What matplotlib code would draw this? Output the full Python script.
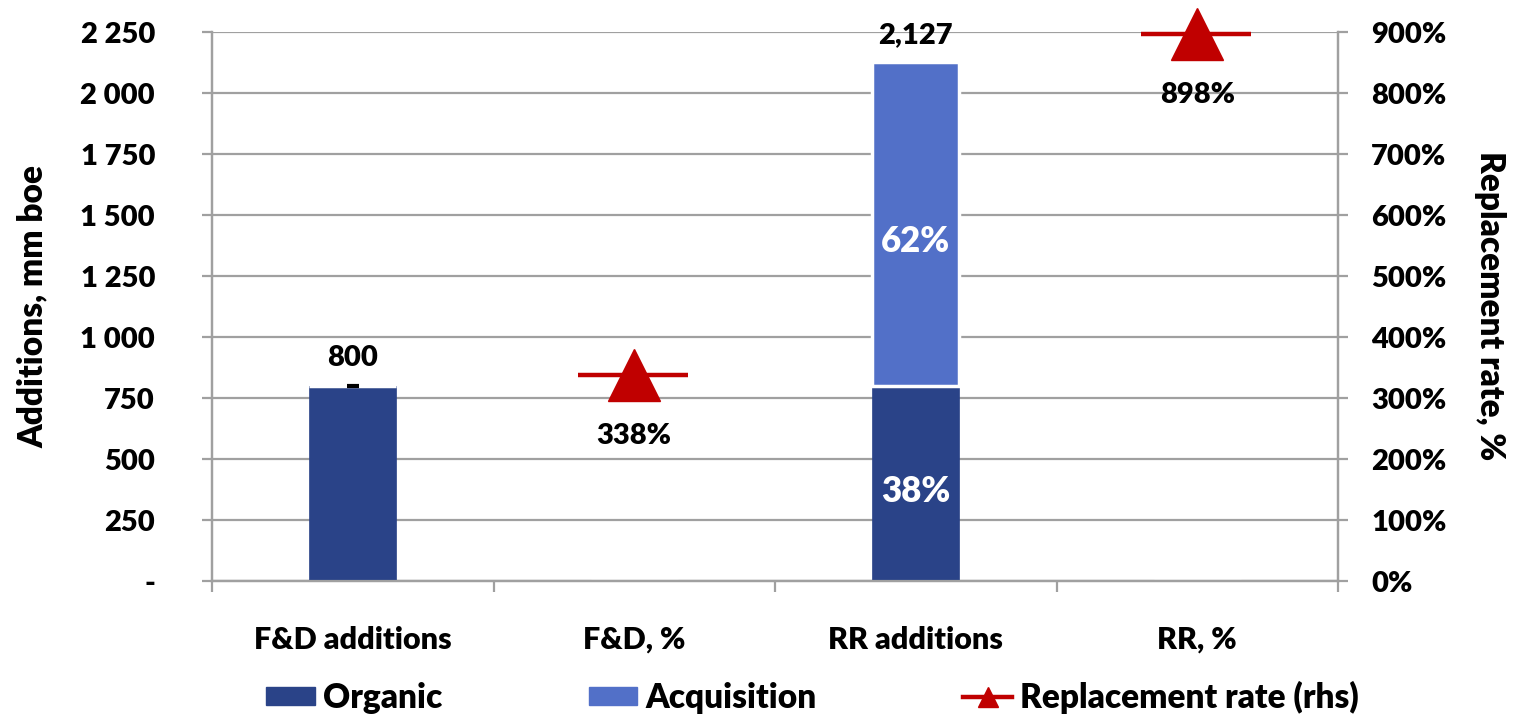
import numpy as np
import matplotlib
matplotlib.use("Agg")
import matplotlib.pyplot as plt
from matplotlib.ticker import FuncFormatter, FixedLocator
from matplotlib.patches import Patch
from matplotlib.lines import Line2D

plt.rcParams['font.family'] = ['Lato', 'DejaVu Sans']

# reserve additions, mm boe
categories = ['F&D additions', 'F&D, %', 'RR additions', 'RR, %']
organic = [800, 0, 800, 0]
acquisition = [0, 0, 1327, 0]
totals = [800, None, 2127, None]
share_labels = [None, None, ('38%', '62%'), None]

# replacement rate, %
rr_pos = [1, 3]
rr_values = [338, 898]

dark_blue = '#2a4388'
light_blue = '#5270c8'
red = '#c00000'
grid_c = '#a0a0a0'
fs = 21
fw = 'heavy'

fig = plt.figure(figsize=(15.13, 7.15), dpi=100)
ax = fig.add_axes([212 / 1513, 133.7 / 715, 1126 / 1513, 548.9 / 715])
ax2 = ax.twinx()

x = np.arange(len(categories))
bw = 0.31

ax.bar(x, organic, bw, color=dark_blue, edgecolor=dark_blue, linewidth=0.5, zorder=3)
ax.bar(x, acquisition, bw, bottom=organic, color=light_blue,
       edgecolor='white', linewidth=2.5, zorder=3)

# small black tick on top of the first bar
ax.plot([0], [organic[0]], marker='_', color='black', markersize=8, mew=3, zorder=4)

for i, t in enumerate(totals):
    if t is None:
        continue
    ax.annotate(f'{t:,}' if t >= 1000 else f'{t}', (x[i], t), xytext=(0, 20),
                textcoords='offset points', ha='center', va='center',
                fontsize=fs, fontweight=fw, color='black', zorder=5)

for i, s in enumerate(share_labels):
    if s is None:
        continue
    ax.text(x[i], organic[i] / 2 - 30, s[0], ha='center', va='center',
            fontsize=25, fontweight=fw, color='white', zorder=5)
    ax.text(x[i], organic[i] + acquisition[i] / 2 - 70, s[1], ha='center',
            va='center', fontsize=25, fontweight=fw, color='white', zorder=5)

ax.set_xlim(-0.5, 3.5)
ax.set_ylim(0, 2250)
ax.yaxis.set_major_locator(FixedLocator(np.arange(0, 2251, 250)))
ax.yaxis.set_major_formatter(FuncFormatter(
    lambda v, p: '-' if v == 0 else f'{int(v):,}'.replace(',', ' ')))
ax.grid(axis='y', color=grid_c, linewidth=1.6, zorder=0)
ax.set_axisbelow(True)

# category boundaries as major ticks, names on minor ticks
ax.xaxis.set_major_locator(FixedLocator([-0.5, 0.5, 1.5, 2.5, 3.5]))
ax.xaxis.set_major_formatter(FuncFormatter(lambda v, p: ''))
ax.xaxis.set_minor_locator(FixedLocator(x))
ax.set_xticklabels(categories, minor=True, fontweight=fw)
ax.tick_params(axis='x', which='major', length=8, width=1.6, color=grid_c, direction='out')
ax.tick_params(axis='x', which='minor', length=0, pad=32, labelsize=22)
ax.tick_params(axis='y', length=7, width=1.6, color=grid_c, pad=34, labelsize=fs)
for lab in ax.get_yticklabels():
    lab.set_fontweight(fw)

for side in ['top']:
    ax.spines[side].set_visible(False)
    ax2.spines[side].set_visible(False)
for side in ['left', 'bottom', 'right']:
    ax.spines[side].set_color(grid_c)
    ax.spines[side].set_linewidth(1.6)
    ax2.spines[side].set_color(grid_c)
    ax2.spines[side].set_linewidth(1.6)

# replacement rate on the right axis
ax2.set_ylim(0, 900)
ax2.yaxis.set_major_locator(FixedLocator(np.arange(0, 901, 100)))
ax2.yaxis.set_major_formatter(FuncFormatter(lambda v, p: f'{int(v)}%'))
ax2.tick_params(axis='y', length=7, width=1.6, color=grid_c, pad=17, labelsize=fs)
for lab in ax2.get_yticklabels():
    lab.set_fontweight(fw)
ax2.hlines(rr_values, np.array(rr_pos) - 0.2, np.array(rr_pos) + 0.19,
           color=red, linewidth=3.2, zorder=4, clip_on=False)
ax2.plot(rr_pos, rr_values, linestyle='none', marker='^', markersize=38,
         color=red, zorder=5, clip_on=False)
for p, v in zip(rr_pos, rr_values):
    ax2.annotate(f'{v}%', (p, v), xytext=(0, -44), textcoords='offset points',
                 ha='center', va='center', fontsize=fs, fontweight=fw)

fig.text(33 / 1513, 0.572, 'Additions, mm boe', rotation=90, ha='center',
         va='center', fontsize=24, fontweight=fw)
fig.text(1490 / 1513, 0.572, 'Replacement rate, %', rotation=270, ha='center',
         va='center', fontsize=24, fontweight=fw)

handles = [
    Patch(facecolor=dark_blue, edgecolor=dark_blue),
    Patch(facecolor=light_blue, edgecolor=light_blue),
    Line2D([0], [0], color=red, linewidth=3.2, marker='^', markersize=14),
]
fig.legend(handles, ['Organic', 'Acquisition', 'Replacement rate (rhs)'],
           loc='center', bbox_to_anchor=(0.537, 0.025), ncol=3, frameon=False,
           handlelength=1.45, handleheight=0.45, handletextpad=0.25,
           columnspacing=4.4, prop={'weight': fw, 'size': 24})

fig.savefig('out.png', dpi=100)
